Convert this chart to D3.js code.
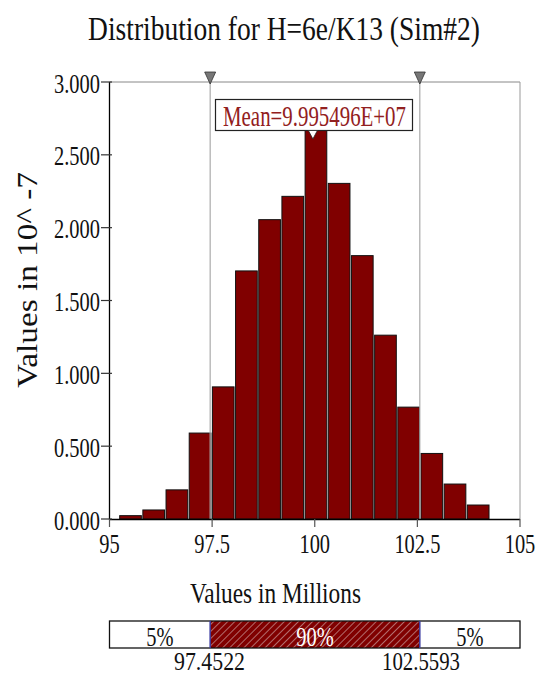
<!DOCTYPE html>
<html>
<head>
<meta charset="utf-8">
<script src="https://cdn.jsdelivr.net/npm/d3@7"></script>
<style>
  body { margin: 0; background: #fff; }
  text { font-family: "Liberation Serif", serif; }
</style>
</head>
<body>
<div class="chart"></div>
<script>
const width = 537
const height = 677

// histogram, values in 10^-7
const binStart = 95.236
const binWidth = 0.5646
const density = [0.023, 0.062, 0.20, 0.59, 0.907, 1.703, 2.055, 2.215,
  2.684, 2.304, 1.808, 1.262, 0.768, 0.45, 0.24, 0.096]

const xTicks = [95, 97.5, 100, 102.5, 105]
const yTicks = [0, 0.5, 1, 1.5, 2, 2.5, 3]
const pctLow = 97.4522
const pctHigh = 102.5593
const meanValue = 99.95496
const bandLabels = ["5%", "90%", "5%"]

const margin = {left: 109.5, right: 520, top: 82, bottom: 519}

const x = d3.scaleLinear().domain([95, 105]).range([margin.left, margin.right])
const y = d3.scaleLinear().domain([0, 3]).range([margin.bottom, margin.top])

const svg = d3.select(".chart").append("svg")
  .attr("width", width)
  .attr("height", height)
  .style("display", "block")

// text squeezed to a given width (the original font is a narrow serif)
const label = (txt, px, py, size, w, opts = {}) => {
  const t = svg.append("text")
    .style("font-family", '"Liberation Serif", serif')
    .style("font-size", size + "px")
    .attr("text-anchor", opts.anchor || "middle")
    .attr("fill", opts.fill || "#111")
    .text(txt)
  const len = t.node().getComputedTextLength()
  const sx = opts.sx || (w / len)
  t.attr("transform", `translate(${px},${py})` + (opts.rotate ? ` rotate(${opts.rotate})` : "") + ` scale(${sx},1)`)
  return t
}
const tickScale = (() => {
  const t = svg.append("text").style("font-family", '"Liberation Serif", serif').style("font-size", "28px").text("2.500")
  const s = 46 / t.node().getComputedTextLength()
  t.remove()
  return s
})()

// title
label("Distribution for H=6e/K13 (Sim#2)", 284, 39.5, 33, 392)

// frame lines
svg.append("line")
  .attr("x1", margin.left).attr("x2", margin.right)
  .attr("y1", margin.top).attr("y2", margin.top)
  .attr("stroke", "#888").attr("stroke-width", 1)
svg.append("line")
  .attr("x1", margin.right).attr("x2", margin.right)
  .attr("y1", margin.top).attr("y2", margin.bottom)
  .attr("stroke", "#999").attr("stroke-width", 1)

// bars
const bins = density.map((d, i) => ({x0: binStart + i * binWidth, x1: binStart + (i + 1) * binWidth, v: d}))
svg.append("g").selectAll("rect")
  .data(bins)
  .join("rect")
    .attr("x", d => x(d.x0) + 0.5)
    .attr("width", d => x(d.x1) - x(d.x0) - 1.5)
    .attr("y", d => y(d.v))
    .attr("height", d => y(0) - y(d.v))
    .attr("fill", "#800000")
    .attr("stroke", "#111")
    .attr("stroke-width", 1)

// percentile lines
svg.append("g").selectAll("line")
  .data([pctLow, pctHigh])
  .join("line")
    .attr("x1", d => x(d)).attr("x2", d => x(d))
    .attr("y1", margin.top).attr("y2", margin.bottom)
    .attr("stroke", "#aaa").attr("stroke-width", 1.2)

svg.append("g").selectAll("path")
  .data([pctLow, pctHigh])
  .join("path")
    .attr("d", d => `M${x(d) - 5.5},72 L${x(d) + 5.5},72 L${x(d)},84 Z`)
    .attr("fill", "#777")
    .attr("stroke", "#333")
    .attr("stroke-width", 0.8)

// axes
svg.append("line")
  .attr("x1", margin.left).attr("x2", margin.left)
  .attr("y1", margin.top).attr("y2", margin.bottom + 0.5)
  .attr("stroke", "#000").attr("stroke-width", 1.3)
svg.append("line")
  .attr("x1", margin.left).attr("x2", margin.right)
  .attr("y1", margin.bottom + 0.5).attr("y2", margin.bottom + 0.5)
  .attr("stroke", "#000").attr("stroke-width", 1.3)

svg.append("g").selectAll("line")
  .data(yTicks)
  .join("line")
    .attr("x1", margin.left - 8.5).attr("x2", margin.left + 2.5)
    .attr("y1", d => y(d)).attr("y2", d => y(d))
    .attr("stroke", "#333").attr("stroke-width", 1.2)
yTicks.forEach(d => label(d3.format(".3f")(d), 100, y(d) + 10.5, 28, 0, {anchor: "end", sx: tickScale}))

svg.append("g").selectAll("line")
  .data(xTicks)
  .join("line")
    .attr("x1", d => x(d)).attr("x2", d => x(d))
    .attr("y1", margin.bottom).attr("y2", margin.bottom + 8)
    .attr("stroke", "#555").attr("stroke-width", 1.2)
xTicks.forEach(d => label(String(d), x(d), 553, 28, 0, {sx: tickScale}))

label("Values in 10^ -7", 37, 280, 30, 216, {rotate: -90})
label("Values in Millions", 275.5, 603, 30, 171)

// mean box
const mx = x(meanValue)
svg.append("rect")
  .attr("x", 215.5).attr("y", 99.5)
  .attr("width", 197).attr("height", 31)
  .attr("fill", "#fff").attr("stroke", "#222").attr("stroke-width", 1.2)
label("Mean=9.995496E+07", 314.5, 126, 29, 183, {fill: "#922020"})
svg.append("path")
  .attr("d", `M${mx - 4.5},130.5 L${mx + 4.5},130.5 L${mx},139 Z`)
  .attr("fill", "#fff").attr("stroke", "#222").attr("stroke-width", 0.8)

// bottom percentile band
const defs = svg.append("defs")
const pat = defs.append("pattern")
  .attr("id", "hatch")
  .attr("patternUnits", "userSpaceOnUse")
  .attr("width", 5).attr("height", 5)
  .attr("patternTransform", "rotate(45)")
pat.append("rect").attr("width", 5).attr("height", 5).attr("fill", "#800000")
pat.append("line")
  .attr("x1", 0).attr("x2", 0).attr("y1", 0).attr("y2", 5)
  .attr("stroke", "#c89a9a").attr("stroke-width", 1.4)

const bandTop = 621
const bandH = 27
const band = [
  {x0: 95, x1: pctLow, fill: "#fff", txt: bandLabels[0], color: "#111"},
  {x0: pctLow, x1: pctHigh, fill: "url(#hatch)", txt: bandLabels[1], color: "#fff"},
  {x0: pctHigh, x1: 105, fill: "#fff", txt: bandLabels[2], color: "#111"}
]
svg.append("g").selectAll("rect")
  .data(band)
  .join("rect")
    .attr("x", d => x(d.x0)).attr("y", bandTop)
    .attr("width", d => x(d.x1) - x(d.x0)).attr("height", bandH)
    .attr("fill", d => d.fill)
svg.append("rect")
  .attr("x", x(95)).attr("y", bandTop)
  .attr("width", x(105) - x(95)).attr("height", bandH)
  .attr("fill", "none").attr("stroke", "#111").attr("stroke-width", 1.3)
svg.append("g").selectAll("line")
  .data([pctLow, pctHigh])
  .join("line")
    .attr("x1", d => x(d)).attr("x2", d => x(d))
    .attr("y1", bandTop).attr("y2", bandTop + bandH)
    .attr("stroke", "#3a3aa0").attr("stroke-width", 1.5)
band.forEach(d => label(d.txt, (x(d.x0) + x(d.x1)) / 2, 646, 28, 0, {sx: tickScale, fill: d.color}))

label(d3.format(".4f")(pctLow), 209.5, 670, 26, 71)
label(d3.format(".4f")(pctHigh), 421, 670, 26, 78)
</script>
</body>
</html>
